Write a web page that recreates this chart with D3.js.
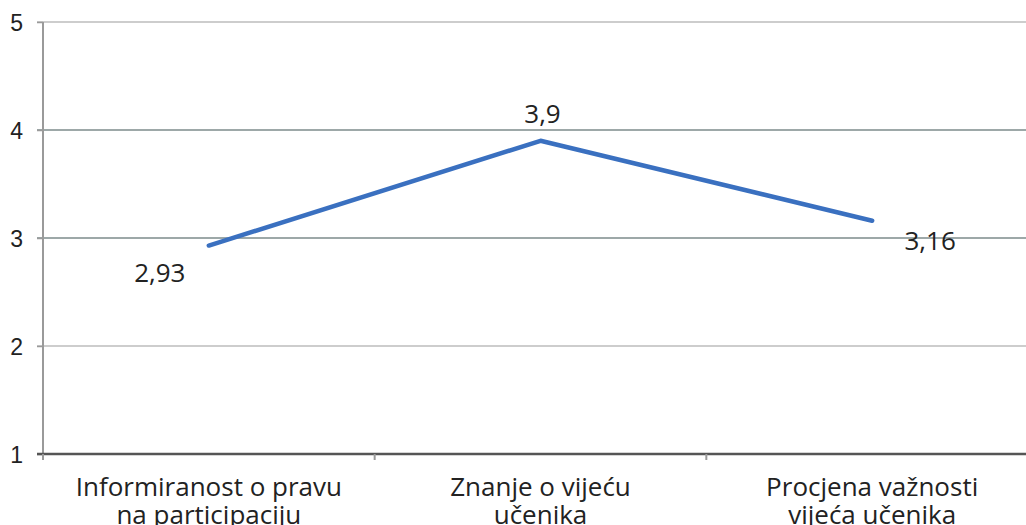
<!DOCTYPE html>
<html lang="hr">
<head>
  <meta charset="UTF-8">
  <title>Vijeće učenika</title>
  <script src="https://d3js.org/d3.v7.min.js"></script>
  <style>
    body { margin: 0; background: #fff; }
    svg { font-family: 'Open Sans', sans-serif; display: block; }
  </style>
</head>
<body>
  <svg id="chart"></svg>
  <script>
    // chart data
    const categories = [
      ["Informiranost o pravu", "na participaciju"],
      ["Znanje o vijeću", "učenika"],
      ["Procjena važnosti", "vijeća učenika"]
    ];
    const values = [2.93, 3.9, 3.16];
    const valueLabels = ["2,93", "3,9", "3,16"];
    const yTicks = [1, 2, 3, 4, 5];

    const W = 1026, H = 525;
    const svg = d3.select("#chart").attr("width", W).attr("height", H);

    const x = d3.scaleBand()
      .domain(d3.range(categories.length))
      .range([43, 1038]);

    const y = d3.scaleLinear()
      .domain([1, 5])
      .range([454, 22]);

    // gridlines (4 and 3 look darker in the original)
    svg.append("g")
      .selectAll("line")
      .data(yTicks.slice(1))
      .join("line")
      .attr("x1", 37)
      .attr("x2", W)
      .attr("y1", d => y(d))
      .attr("y2", d => y(d))
      .attr("stroke", d => (d === 3 || d === 4) ? "#7d8b8b" : "#bdbdbd")
      .attr("stroke-width", 1.5);

    // y axis
    const yAxis = svg.append("g")
      .attr("transform", "translate(43,0)")
      .call(d3.axisLeft(y).tickValues(yTicks).tickSize(6).tickPadding(14).tickFormat(d3.format("d")));
    yAxis.select(".domain").attr("stroke", "#9a9a9a").attr("stroke-width", 2)
      .attr("d", "M0," + y(5) + "V" + (y(1) + 4));
    yAxis.selectAll(".tick line").attr("stroke", "#9a9a9a").attr("stroke-width", 1.5);
    yAxis.selectAll(".tick text")
      .attr("fill", "#222")
      .style("font-size", "23px")
      .attr("dy", "0.36em");

    // x axis
    const xAxis = svg.append("g")
      .attr("transform", "translate(0," + y(1) + ")");
    xAxis.append("line")
      .attr("x1", 37).attr("x2", W)
      .attr("stroke", "#555").attr("stroke-width", 2.5);
    xAxis.selectAll(".tk")
      .data(d3.range(categories.length + 1))
      .join("line")
      .attr("class", "tk")
      .attr("x1", d => 43 + d * x.bandwidth())
      .attr("x2", d => 43 + d * x.bandwidth())
      .attr("y1", 0).attr("y2", 6)
      .attr("stroke", "#9a9a9a").attr("stroke-width", 2);

    const lbl = xAxis.selectAll(".cat")
      .data(categories)
      .join("text")
      .attr("class", "cat")
      .attr("text-anchor", "middle")
      .attr("fill", "#222")
      .style("font-size", "26px")
      .attr("transform", (d, i) => "translate(" + (x(i) + x.bandwidth() / 2) + ",0)");
    lbl.selectAll("tspan")
      .data(d => d)
      .join("tspan")
      .attr("x", 0)
      .attr("y", (d, j) => 42 + j * 28)
      .text(d => d);

    // line
    const line = d3.line()
      .x((d, i) => x(i) + x.bandwidth() / 2)
      .y(d => y(d));

    svg.append("path")
      .datum(values)
      .attr("d", line)
      .attr("fill", "none")
      .attr("stroke", "#3a70c0")
      .attr("stroke-width", 4.5)
      .attr("stroke-linecap", "round")
      .attr("stroke-linejoin", "round");

    // data labels
    const offsets = [[-49, 36], [2, -18], [58, 29]];
    svg.append("g")
      .selectAll("text")
      .data(values)
      .join("text")
      .attr("x", (d, i) => x(i) + x.bandwidth() / 2 + offsets[i][0])
      .attr("y", (d, i) => y(d) + offsets[i][1])
      .attr("text-anchor", "middle")
      .attr("fill", "#222")
      .style("font-size", "26px")
      .text((d, i) => valueLabels[i]);
  </script>
</body>
</html>
